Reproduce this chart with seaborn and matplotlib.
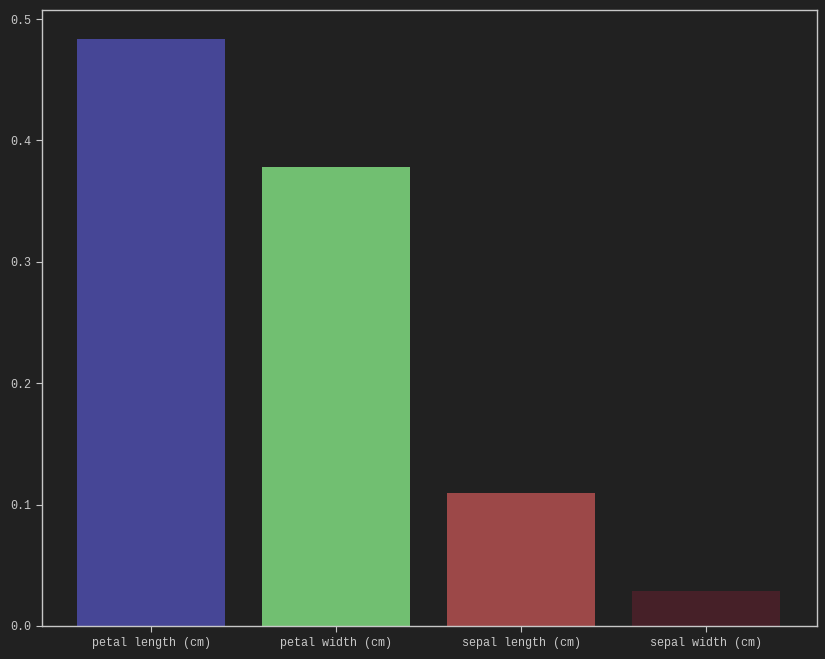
import matplotlib
matplotlib.use("Agg")
import matplotlib.pyplot as plt
import seaborn as sns
import pandas as pd

features = ["petal length (cm)", "petal width (cm)", "sepal length (cm)", "sepal width (cm)"]
importances = [0.4835, 0.378, 0.1096, 0.0288]
colors = ["#464696", "#71BF71", "#9C4848", "#462028"]

sns.set_theme(style="dark")
bg = "#212121"
fg = "#c8c8c8"
plt.rcParams.update({
    "font.family": ["Liberation Mono", "DejaVu Sans Mono"],
    "font.size": 8.5,
})

fig = plt.figure(figsize=(8.25, 6.59), dpi=100, facecolor=bg)
ax = fig.add_axes([42/825, 33/659, 775/825, 616/659])
ax.set_facecolor(bg)

df = pd.DataFrame({"feature": features, "importance": importances})
sns.barplot(data=df, x="feature", y="importance", hue="feature", palette=colors,
            legend=False, ax=ax, saturation=1, width=0.8, linewidth=0, edgecolor="none")

ax.set_xlabel("")
ax.set_ylabel("")
ax.grid(False)
for s in ax.spines.values():
    s.set_color(fg)
    s.set_linewidth(1.0)
ax.tick_params(colors=fg, labelsize=8.5, length=4, width=0.8, left=True, bottom=True, pad=4)
ax.set_yticks([0.0, 0.1, 0.2, 0.3, 0.4, 0.5])
ax.set_ylim(0, 0.5075)
ax.set_xlim(-0.59, 3.6)

fig.savefig("out.png", dpi=100, facecolor=bg)
